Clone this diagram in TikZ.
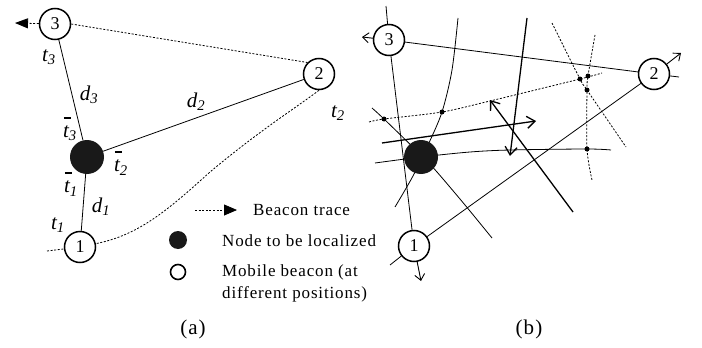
\documentclass[tikz,border=0pt]{standalone}
\usepackage{fontspec}
\setmainfont{Liberation Serif}[LetterSpace=5]
\usetikzlibrary{arrows.meta}

\newcommand{\tlab}[2]{\textit{#1}\textsubscript{\textit{#2}}}
\newcommand{\tbar}[1]{\rlap{\hspace{0.03em}\rule[0.92em]{0.36em}{0.08em}}\textit{t}\textsubscript{\textit{#1}}}

\tikzset{
  beacon/.style={circle, draw, line width=1.5pt, fill=white, minimum size=31pt,
    inner sep=0pt, font=\fontsize{18}{18}\selectfont},
  target/.style={circle, fill=black!90, minimum size=34pt, inner sep=0pt},
  link/.style={line width=0.8pt},
  trace/.style={line width=0.8pt, dash pattern=on 2pt off 1.6pt},
  move/.style={line width=1.3pt, -{Straight Barb[length=8pt,width=12pt]}},
  leave/.style={line width=0.9pt, -{Straight Barb[length=6pt,width=10pt]}},
  lab/.style={inner sep=0pt, font=\fontsize{21}{21}\selectfont\itshape},
  legend/.style={inner sep=0pt, anchor=west, align=left, font=\fontsize{17}{22}\selectfont},
}

\begin{document}
\begin{tikzpicture}[x=1pt,y=-1pt]
\useasboundingbox (0,0) rectangle (702,348);

% (a) beacon at three positions
\node[beacon] (a3) at (55,24) {3};
\node[beacon] (a2) at (319,74) {2};
\node[beacon] (a1) at (80,247) {1};
\node[target] (a0) at (87,157) {};
\coordinate (a3out) at (15,23);
\coordinate (a1in) at (47,251);

\draw[link] (a0) -- (a3);
\draw[link] (a0) -- (a2);
\draw[link] (a0) -- (a1);

% trace of the beacon
\draw[trace] (a1in) -- (a1);
\draw[trace] (a2.south) .. controls (300,105) and (260,130) .. (210,172)
  .. controls (170,208) and (140,235) .. (a1.12);
\draw[trace] (a3.east) -- (a2.north west);
\draw[trace,-{Triangle[length=13pt,width=10pt]}] (a3) -- (a3out);

% labels
\node[lab] (t3) at (49,57) {\tlab{t}{3}};
\node[lab] (d3) at (89,95) {\tlab{d}{3}};
\node[lab] (d2) at (196,102) {\tlab{d}{2}};
\node[lab] (t2) at (338,113) {\tlab{t}{2}};
\node[lab] (tb3) at (70,129) {\tbar{3}};
\node[lab] (tb2) at (121,163) {\tbar{2}};
\node[lab] (tb1) at (71,184) {\tbar{1}};
\node[lab] (d1) at (101,207) {\tlab{d}{1}};
\node[lab] (t1) at (58,225) {\tlab{t}{1}};

% legend
\coordinate (lgA) at (195,210);
\coordinate (lgB) at (237,210);
\draw[trace,-{Triangle[length=13pt,width=11pt]}] (lgA) -- (lgB);
\node[legend] (lg1) at (253,210) {Beacon trace};
\node[circle, fill=black!90, minimum size=18pt, inner sep=0pt] (lgdot) at (178,240) {};
\node[legend] (lg2) at (222,241) {Node to be localized};
\node[circle, draw, line width=1.6pt, minimum size=15pt, inner sep=0pt] (lgring) at (178,272) {};
\node[legend] (lg3) at (222,283) {Mobile beacon (at\\different positions)};

\node[font=\fontsize{21}{21}\selectfont] (capa) at (193,329) {(a)};
\node[font=\fontsize{21}{21}\selectfont] (capb) at (529,329) {(b)};

% (b) curves of possible positions
\draw[link] plot[smooth] coordinates {(458,18) (452,70) (442,112) (428,145) (413,176) (395,207)};
\draw[link] plot[smooth] coordinates {(372,108) (384,119) (421,155) (437,172) (465,205) (492,238)};
\draw[link] plot[smooth] coordinates {(375,163) (421,157) (470,152) (510,150) (587,149) (611,150)};
\draw[trace] plot[smooth] coordinates {(369,122) (384,119) (442,112) (490,101) (580,79) (602,73)};
\draw[trace] plot[smooth] coordinates {(552,23) (580,79) (587,90) (626,147)};
\draw[trace] plot[smooth] coordinates {(595,35) (588,76) (587,90) (587,149) (592,180)};

% movement directions
\coordinate (m1s) at (382,143);
\coordinate (m1e) at (536,121);
\coordinate (m2s) at (527,18);
\coordinate (m2e) at (510,156);
\coordinate (m3s) at (573,212);
\coordinate (m3e) at (490,100);
\draw[move] (m1s) -- (m1e);
\draw[move] (m2s) -- (m2e);
\draw[move] (m3s) -- (m3e);

\foreach \x/\y in {384/119, 442/112, 580/79, 588/76, 587/90, 587/149}
  \fill (\x,\y) circle (2.5);

\node[beacon] (b3) at (389,40) {3};
\node[beacon] (b2) at (654,74) {2};
\node[beacon] (b1) at (414,246) {1};
\node[target] (b0) at (421,157) {};
\coordinate (b3up) at (386,6);
\coordinate (b3out) at (362,37);
\coordinate (b2in) at (679,77);
\coordinate (b2out) at (681,53);
\coordinate (b1in) at (390,265);
\coordinate (b1out) at (421,281);

\draw[link] (b3up) -- (b3);
\draw[link] (b3) -- (b1);
\draw[link] (b3) -- (b2);
\draw[link] (b2) -- (b1);
\draw[link] (b2in) -- (b2);
\draw[link] (b1in) -- (b1);
\draw[leave] (b3) -- (b3out);
\draw[leave] (b2) -- (b2out);
\draw[leave] (b1) -- (b1out);

\end{tikzpicture}
\end{document}
